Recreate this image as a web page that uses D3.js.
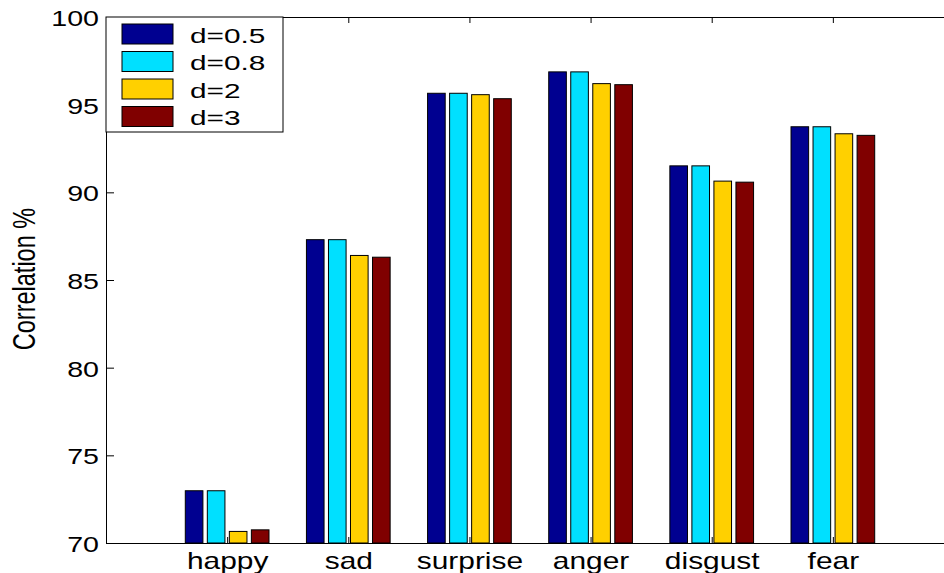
<!DOCTYPE html>
<html>
<head>
<meta charset="utf-8">
<script src="https://cdn.jsdelivr.net/npm/d3@7"></script>
<style>
  body { margin: 0; background: #fff; }
  svg { display: block; font-family: "Liberation Sans", Arial, sans-serif; }
  .c-axis path, .c-axis line { stroke: #000; }
</style>
</head>
<body>
<div id="chart"></div>
<script>
const categories = ['happy', 'sad', 'surprise', 'anger', 'disgust', 'fear'];
const seriesNames = ['d=0.5', 'd=0.8', 'd=2', 'd=3'];
const d05 = [72.98, 87.3, 95.65, 96.87, 91.51, 93.74];
const d08 = [72.98, 87.3, 95.65, 96.87, 91.51, 93.74];
const d2 = [70.66, 86.4, 95.57, 96.2, 90.64, 93.34];
const d3v = [70.75, 86.3, 95.34, 96.14, 90.58, 93.25];
const yTicks = [70, 75, 80, 85, 90, 95, 100];
const seriesValues = [d05, d08, d2, d3v];
const colors = ['#000090', '#00e0ff', '#ffd000', '#800000'];

class GroupedBarChart {
  constructor(aims) {
    this.chartContainer = d3.select(aims);
    this.chart = null;
    this.chartWidth = 944;
    this.chartHeight = 573;
    this.left = 106;
    this.right = 954; // plot box runs past the window edge
    this.top = 17;
    this.bottom = 543;
    this.stretch = 1.3; // text in the picture is wider than normal
    this.xScale = null;
    this.yScale = null;
  }

  render() {
    this.createSvg();
    this.initScales();
    this.drawAxes();
    this.drawBars();
    this.drawLegend();
  }

  createSvg() {
    this.chart = this.chartContainer
      .append('svg')
      .attr('width', this.chartWidth)
      .attr('height', this.chartHeight);
  }

  initScales() {
    this.xScale = d3.scaleLinear().domain([0, categories.length + 1]).range([this.left, this.right]);
    this.yScale = d3.scaleLinear().domain([70, 100]).range([this.bottom, this.top]);
  }

  drawAxes() {
    let s = this.stretch;
    let idx = categories.map((c, i) => i + 1);

    // box: top and right sides, ticks only
    this.chart.append('g')
      .attr('class', 'c-axis')
      .attr('transform', 'translate(0,' + this.top + ')')
      .call(d3.axisTop(this.xScale).tickValues(idx).tickSizeInner(-6).tickSizeOuter(0).tickFormat(''));

    this.chart.append('g')
      .attr('class', 'c-axis')
      .attr('transform', 'translate(' + this.right + ',0)')
      .call(d3.axisRight(this.yScale).tickValues(yTicks).tickSizeInner(-8).tickSizeOuter(0).tickFormat(''));

    let yAxis = this.chart.append('g')
      .attr('class', 'c-axis')
      .attr('transform', 'translate(' + this.left + ',0)')
      .call(d3.axisLeft(this.yScale).tickValues(yTicks).tickSizeInner(-8).tickSizeOuter(0).tickPadding(5.4));
    yAxis.selectAll('text')
      .attr('fill', '#000')
      .attr('font-size', '22px')
      .attr('font-family', 'Liberation Sans, Arial, sans-serif')
      .attr('dy', '0.39em')
      .attr('transform', 'scale(' + s + ',1)');

    let xAxis = this.chart.append('g')
      .attr('class', 'c-axis')
      .attr('transform', 'translate(0,' + this.bottom + ')')
      .call(d3.axisBottom(this.xScale).tickValues(idx).tickSizeInner(-6).tickSizeOuter(0)
        .tickFormat((d) => categories[d - 1]));
    xAxis.selectAll('text')
      .attr('fill', '#000')
      .attr('font-size', '23px')
      .attr('font-family', 'Liberation Sans, Arial, sans-serif')
      .attr('y', 26)
      .attr('dy', 0)
      .attr('transform', 'scale(' + s + ',1)');
    xAxis.selectAll('.tick line').attr('stroke', '#888');

    this.chart.append('text')
      .attr('transform', 'translate(35,279) scale(' + s + ',1) rotate(-90)')
      .attr('text-anchor', 'middle')
      .attr('font-size', '23.5px')
      .attr('fill', '#000')
      .text('Correlation %');
  }

  drawBars() {
    let n = seriesNames.length;
    let groupWidth = Math.min(0.8, n / (n + 1.5));
    let barWidth = 0.8 * groupWidth / n;
    let unit = this.xScale(1) - this.xScale(0);

    let rows = [];
    seriesValues.forEach((vals, si) => {
      vals.forEach((v, ci) => {
        let center = ci + 1 - groupWidth / 2 + (2 * si + 1) * groupWidth / (2 * n);
        rows.push({ s: si, x: center, v: v });
      });
    });

    this.chart.append('g')
      .attr('class', 'c-bars')
      .selectAll('rect')
      .data(rows)
      .enter()
      .append('rect')
      .attr('x', (d) => this.xScale(d.x) - barWidth * unit / 2)
      .attr('width', barWidth * unit)
      .attr('y', (d) => this.yScale(d.v))
      .attr('height', (d) => this.yScale(70) - this.yScale(d.v))
      .attr('fill', (d) => colors[d.s])
      .attr('stroke', '#000')
      .attr('stroke-width', 1);
  }

  drawLegend() {
    let lg = this.chart.append('g').attr('class', 'c-legend');
    lg.append('rect')
      .attr('x', this.left)
      .attr('y', this.top)
      .attr('width', 177)
      .attr('height', 115)
      .attr('fill', '#fff')
      .attr('stroke', '#000');

    let item = lg.selectAll('g')
      .data(seriesNames)
      .enter()
      .append('g')
      .attr('transform', (d, i) => 'translate(0,' + (this.top + 7 + i * 27.5) + ')');

    item.append('rect')
      .attr('x', 122)
      .attr('width', 51)
      .attr('height', 20)
      .attr('fill', (d, i) => colors[i])
      .attr('stroke', '#000');

    item.append('text')
      .attr('transform', 'translate(190,18.5) scale(1.42,1)')
      .attr('font-size', '21px')
      .attr('fill', '#000')
      .text((d) => d);
  }
}

let chart = new GroupedBarChart('#chart');
chart.render();
</script>
</body>
</html>
